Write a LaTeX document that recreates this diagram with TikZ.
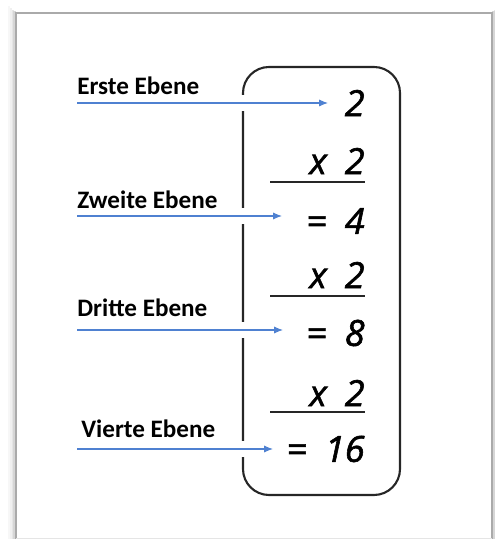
\documentclass[tikz,border=0pt]{standalone}
\usepackage{fontspec}
\setmainfont{Carlito}
\newfontfamily\handfont{Open Sans}[FakeBold=1.6]
\usetikzlibrary{arrows.meta}

\definecolor{pfeilblau}{RGB}{79,129,209}
\definecolor{rahmengrau}{RGB}{170,170,170}

\begin{document}
\begin{tikzpicture}[
    ebene/.style={anchor=base west, inner sep=0pt, font=\bfseries\fontsize{14.3}{16}\selectfont},
    zahl/.style={anchor=east, inner sep=0pt, font=\handfont\itshape\fontsize{20.5}{22}\selectfont},
    pfeil/.style={draw=pfeilblau, line width=0.6pt, -{Latex[length=5pt,width=4pt]}}
]
    \useasboundingbox (0,0) rectangle (9.88,10.78);

    % Rahmen mit Schatten
    \foreach \d/\c in {0.14/3, 0.10/6, 0.06/10, 0.03/16}{
        \draw[black!\c, line width=1.2pt] (0.32-\d,-0.2) -- (0.32-\d,10.52+\d);
        \draw[black!\c, line width=1.2pt] (9.84+\d,-0.2) -- (9.84+\d,10.52+\d);
    }
    \draw[rahmengrau, line width=0.9pt] (0.32,-0.2) -- (0.32,10.52) -- (9.84,10.52) -- (9.84,-0.2);
    \draw[black!10, line width=0.5pt] (0.32,0.02) -- (9.84,0.02);

    % Kasten
    \draw[black!85, line width=1.2pt, rounded corners=0.52cm] (4.86,0.88) rectangle (8.00,9.44);

    % Ebenen und Pfeile
    \node[ebene] (l1) at (1.54,8.88) {Erste Ebene};
    \node[ebene] (l2) at (1.54,6.60) {Zweite Ebene};
    \node[ebene] (l3) at (1.54,4.44) {Dritte Ebene};
    \node[ebene] (l4) at (1.62,2.02) {Vierte Ebene};

    \foreach \n/\y/\xe in {1/8.72/6.56, 2/6.46/5.64, 3/4.18/5.66, 4/1.80/5.46}{
        \fill[white] (4.80,\y-0.16) rectangle (4.92,\y+0.15);
        \coordinate (s\n) at (1.54,\y);
        \coordinate (e\n) at (\xe,\y);
        \draw[pfeil] (s\n) -- (e\n);
    }

    % Rechnung
    \node[zahl] (z1) at (7.30,8.72) {2};
    \node[zahl] (m1) at (7.30,7.56) {x\enspace2};
    \node[zahl] (z2) at (7.30,6.36) {=\enspace4};
    \node[zahl] (m2) at (7.30,5.28) {x\enspace2};
    \node[zahl] (z3) at (7.30,4.12) {=\enspace8};
    \node[zahl] (m3) at (7.30,2.92) {x\enspace2};
    \node[zahl] (z4) at (7.30,1.80) {=\enspace16};

    \foreach \y in {7.14, 4.86, 2.54}{
        \draw[black!85, line width=1pt] (5.40,\y) -- (7.30,\y);
    }
\end{tikzpicture}
\end{document}
